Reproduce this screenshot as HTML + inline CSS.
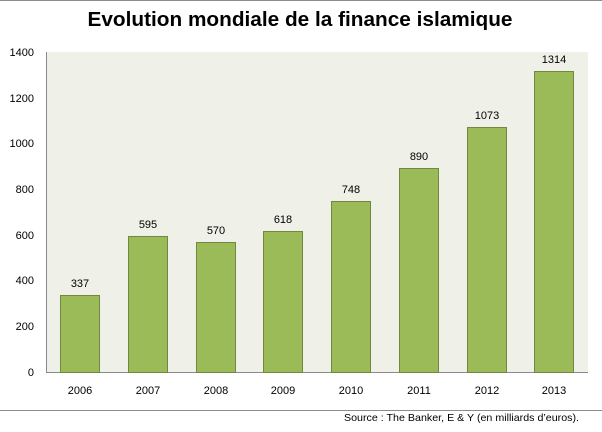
<!DOCTYPE html>
<html><head><meta charset="utf-8"><style>
html,body{margin:0;padding:0;background:#fff;}
svg{display:block;}
text{font-family:"Liberation Sans",sans-serif;fill:#000;}
</style></head><body>
<svg width="602" height="432" viewBox="0 0 602 432" xmlns="http://www.w3.org/2000/svg">
<rect x="0" y="0" width="602" height="432" fill="#fff"/>
<line x1="0" y1="0.5" x2="602" y2="0.5" stroke="#8c8c8c" stroke-width="1"/>
<text x="300" y="26" text-anchor="middle" font-size="20" font-weight="bold" textLength="425" lengthAdjust="spacingAndGlyphs">Evolution mondiale de la finance islamique</text>
<rect x="46" y="52" width="542" height="320" fill="#eff1e9"/>
<line x1="46.5" y1="52" x2="46.5" y2="372" stroke="#8a8a8a" stroke-width="1"/>
<line x1="46" y1="372.5" x2="588" y2="372.5" stroke="#8a8a8a" stroke-width="1"/>
<g font-size="11" text-anchor="end">
<text x="34" y="56">1400</text>
<text x="34" y="102">1200</text>
<text x="34" y="147">1000</text>
<text x="34" y="193">800</text>
<text x="34" y="239">600</text>
<text x="34" y="284">400</text>
<text x="34" y="330">200</text>
<text x="34" y="376">0</text>
</g>
<g fill="#9bbb59" stroke="#71893f" stroke-width="1">
<rect x="60.5" y="295.5" width="39" height="77"/>
<rect x="128.5" y="236.5" width="39" height="136"/>
<rect x="196.5" y="242.5" width="39" height="130"/>
<rect x="263.5" y="231.5" width="39" height="141"/>
<rect x="331.5" y="201.5" width="39" height="171"/>
<rect x="399.5" y="168.5" width="39" height="204"/>
<rect x="467.5" y="127.5" width="39" height="245"/>
<rect x="534.5" y="71.5" width="39" height="301"/>
</g>
<g font-size="11" text-anchor="middle">
<text x="80" y="287">337</text>
<text x="148" y="228">595</text>
<text x="216" y="234">570</text>
<text x="283" y="223">618</text>
<text x="351" y="193">748</text>
<text x="419" y="160">890</text>
<text x="487" y="119">1073</text>
<text x="554" y="63">1314</text>
</g>
<g font-size="11" text-anchor="middle">
<text x="80" y="394">2006</text>
<text x="148" y="394">2007</text>
<text x="216" y="394">2008</text>
<text x="283" y="394">2009</text>
<text x="351" y="394">2010</text>
<text x="419" y="394">2011</text>
<text x="487" y="394">2012</text>
<text x="554" y="394">2013</text>
</g>
<line x1="0" y1="410.5" x2="602" y2="410.5" stroke="#8c8c8c" stroke-width="1"/>
<text x="344" y="421" font-size="10.5" textLength="235" lengthAdjust="spacingAndGlyphs">Source : The Banker, E &amp; Y (en milliards d’euros).</text>
</svg>
</body></html>
